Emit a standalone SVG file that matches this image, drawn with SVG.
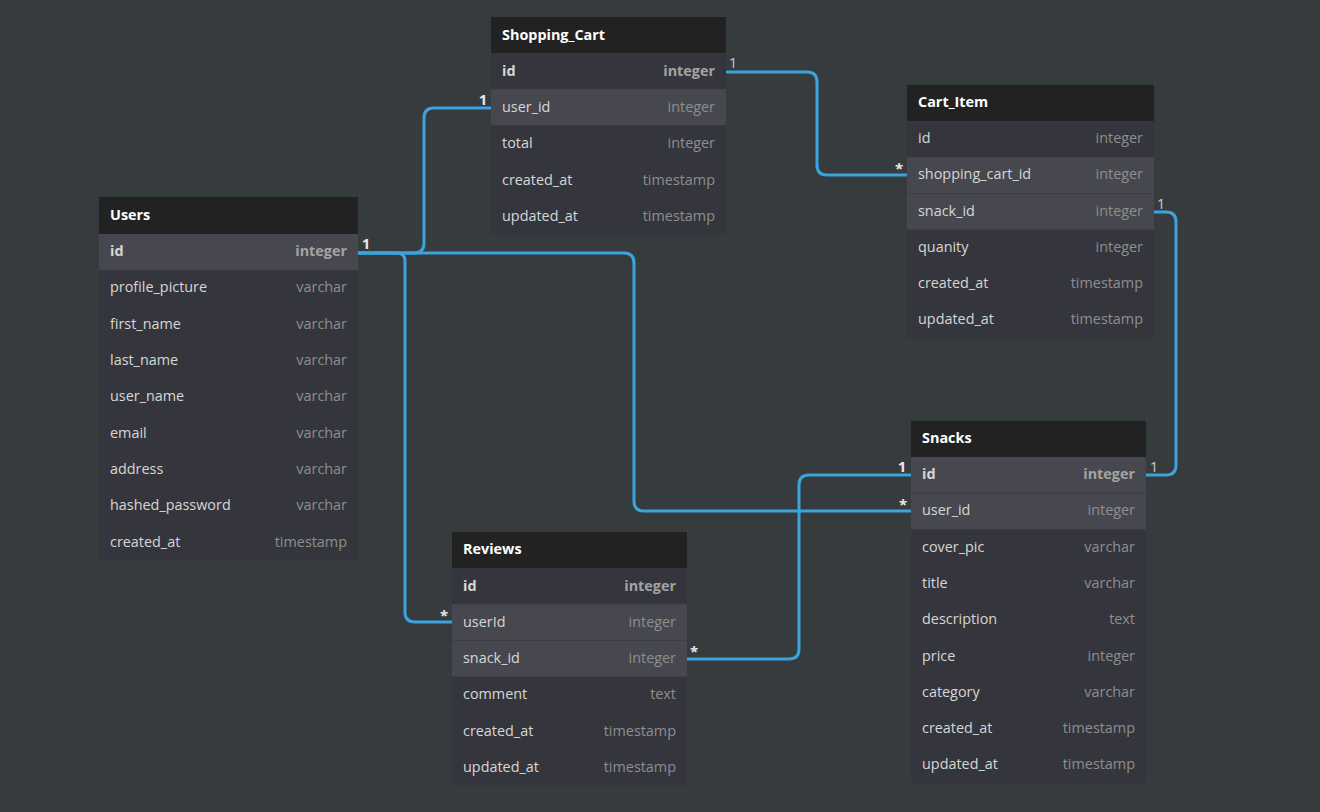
<svg xmlns="http://www.w3.org/2000/svg" width="1320" height="812" viewBox="0 0 1320 812">
<style>
.bg{fill:#363b3e}
.hd{fill:#222222}
.rw{fill:#35363d}
.hl{fill:#47484f}
.sep{stroke:#3e3f46;stroke-width:1}
text{font-family:"Open Sans","Noto Sans","Liberation Sans",sans-serif;font-size:14.4px}
.ht{fill:#ffffff;font-weight:bold}
.fn{fill:#d6d6d6}
.ty{fill:#8e8e8e;text-anchor:end}
.pk{fill:#d6d6d6;font-weight:bold}
.pt{fill:#a3a3a3;font-weight:bold;text-anchor:end}
.cn{fill:none;stroke:#3ba4dc;stroke-width:3}
.lr{fill:#c8c8c8;text-anchor:middle;font-size:15px}
.lb{fill:#e8e8e8;font-weight:bold;text-anchor:middle;font-size:15px}
</style>
<rect class="bg" x="0" y="0" width="1320" height="812"/>

<g id="connectors">
<path class="cn" d="M726,72 H807 Q817,72 817,82 V165 Q817,175 827,175 H907"/>
<path class="cn" d="M358,253 H414 Q424,253 424,243 V118 Q424,108 434,108 H491"/>
<path class="cn" d="M358,253 H624 Q634,253 634,263 V501 Q634,511 644,511 H911"/>
<path class="cn" d="M358,253 H397 Q405,253 405,261 V612 Q405,622 415,622 H452"/>
<path class="cn" d="M687,659 H789 Q799,659 799,649 V485 Q799,475 809,475 H911"/>
<path class="cn" d="M1154,212 H1166 Q1176,212 1176,222 V465 Q1176,475 1166,475 H1146"/>
<text class="lr" x="733" y="68">1</text>
<text class="lb" x="899" y="174">*</text>
<text class="lb" x="366" y="249">1</text>
<text class="lb" x="483" y="105">1</text>
<text class="lb" x="903" y="510">*</text>
<text class="lb" x="444" y="621">*</text>
<text class="lb" x="694" y="657">*</text>
<text class="lb" x="902" y="472">1</text>
<text class="lr" x="1161" y="209">1</text>
<text class="lr" x="1154" y="472">1</text>
</g>

<g id="Shopping_Cart">
<rect class="hd" x="491" y="17" width="235" height="36"/>
<text class="ht" x="502" y="40">Shopping_Cart</text>
<rect class="rw" x="491" y="53" width="235" height="36.25"/>
<rect class="hl" x="491" y="89.25" width="235" height="36.25"/>
<rect class="rw" x="491" y="125.5" width="235" height="108.75"/>
<text class="pk" x="502" y="76">id</text><text class="pt" x="715" y="76">integer</text>
<text class="fn" x="502" y="112">user_id</text><text class="ty" x="715" y="112">integer</text>
<text class="fn" x="502" y="148">total</text><text class="ty" x="715" y="148">integer</text>
<text class="fn" x="502" y="185">created_at</text><text class="ty" x="715" y="185">timestamp</text>
<text class="fn" x="502" y="221">updated_at</text><text class="ty" x="715" y="221">timestamp</text>
</g>

<g id="Cart_Item">
<rect class="hd" x="907" y="85" width="247" height="36"/>
<text class="ht" x="918" y="107">Cart_Item</text>
<rect class="rw" x="907" y="121" width="247" height="36.25"/>
<rect class="hl" x="907" y="157.25" width="247" height="72.5"/>
<line class="sep" x1="907" y1="193.5" x2="1154" y2="193.5"/>
<rect class="rw" x="907" y="229.75" width="247" height="108.75"/>
<text class="fn" x="918" y="143">id</text><text class="ty" x="1143" y="143">integer</text>
<text class="fn" x="918" y="179">shopping_cart_id</text><text class="ty" x="1143" y="179">integer</text>
<text class="fn" x="918" y="216">snack_id</text><text class="ty" x="1143" y="216">integer</text>
<text class="fn" x="918" y="252">quanity</text><text class="ty" x="1143" y="252">integer</text>
<text class="fn" x="918" y="288">created_at</text><text class="ty" x="1143" y="288">timestamp</text>
<text class="fn" x="918" y="324">updated_at</text><text class="ty" x="1143" y="324">timestamp</text>
</g>

<g id="Users">
<rect class="hd" x="99" y="197" width="259" height="37"/>
<text class="ht" x="110" y="220">Users</text>
<rect class="hl" x="99" y="234" width="259" height="36.25"/>
<rect class="rw" x="99" y="270.25" width="259" height="290"/>
<text class="pk" x="110" y="256">id</text><text class="pt" x="347" y="256">integer</text>
<text class="fn" x="110" y="292">profile_picture</text><text class="ty" x="347" y="292">varchar</text>
<text class="fn" x="110" y="329">first_name</text><text class="ty" x="347" y="329">varchar</text>
<text class="fn" x="110" y="365">last_name</text><text class="ty" x="347" y="365">varchar</text>
<text class="fn" x="110" y="401">user_name</text><text class="ty" x="347" y="401">varchar</text>
<text class="fn" x="110" y="438">email</text><text class="ty" x="347" y="438">varchar</text>
<text class="fn" x="110" y="474">address</text><text class="ty" x="347" y="474">varchar</text>
<text class="fn" x="110" y="510">hashed_password</text><text class="ty" x="347" y="510">varchar</text>
<text class="fn" x="110" y="547">created_at</text><text class="ty" x="347" y="547">timestamp</text>
</g>

<g id="Snacks">
<rect class="hd" x="911" y="421" width="235" height="36"/>
<text class="ht" x="922" y="443">Snacks</text>
<rect class="hl" x="911" y="457" width="235" height="72.5"/>
<line class="sep" x1="911" y1="493.25" x2="1146" y2="493.25"/>
<rect class="rw" x="911" y="529.5" width="235" height="253.75"/>
<text class="pk" x="922" y="479">id</text><text class="pt" x="1135" y="479">integer</text>
<text class="fn" x="922" y="515">user_id</text><text class="ty" x="1135" y="515">integer</text>
<text class="fn" x="922" y="552">cover_pic</text><text class="ty" x="1135" y="552">varchar</text>
<text class="fn" x="922" y="588">title</text><text class="ty" x="1135" y="588">varchar</text>
<text class="fn" x="922" y="624">description</text><text class="ty" x="1135" y="624">text</text>
<text class="fn" x="922" y="661">price</text><text class="ty" x="1135" y="661">integer</text>
<text class="fn" x="922" y="697">category</text><text class="ty" x="1135" y="697">varchar</text>
<text class="fn" x="922" y="733">created_at</text><text class="ty" x="1135" y="733">timestamp</text>
<text class="fn" x="922" y="769">updated_at</text><text class="ty" x="1135" y="769">timestamp</text>
</g>

<g id="Reviews">
<rect class="hd" x="452" y="532" width="235" height="36"/>
<text class="ht" x="463" y="554">Reviews</text>
<rect class="rw" x="452" y="568" width="235" height="36.25"/>
<rect class="hl" x="452" y="604.25" width="235" height="72.5"/>
<line class="sep" x1="452" y1="640.5" x2="687" y2="640.5"/>
<rect class="rw" x="452" y="676.75" width="235" height="108.75"/>
<text class="pk" x="463" y="591">id</text><text class="pt" x="676" y="591">integer</text>
<text class="fn" x="463" y="627">userId</text><text class="ty" x="676" y="627">integer</text>
<text class="fn" x="463" y="663">snack_id</text><text class="ty" x="676" y="663">integer</text>
<text class="fn" x="463" y="699">comment</text><text class="ty" x="676" y="699">text</text>
<text class="fn" x="463" y="736">created_at</text><text class="ty" x="676" y="736">timestamp</text>
<text class="fn" x="463" y="772">updated_at</text><text class="ty" x="676" y="772">timestamp</text>
</g>
</svg>
